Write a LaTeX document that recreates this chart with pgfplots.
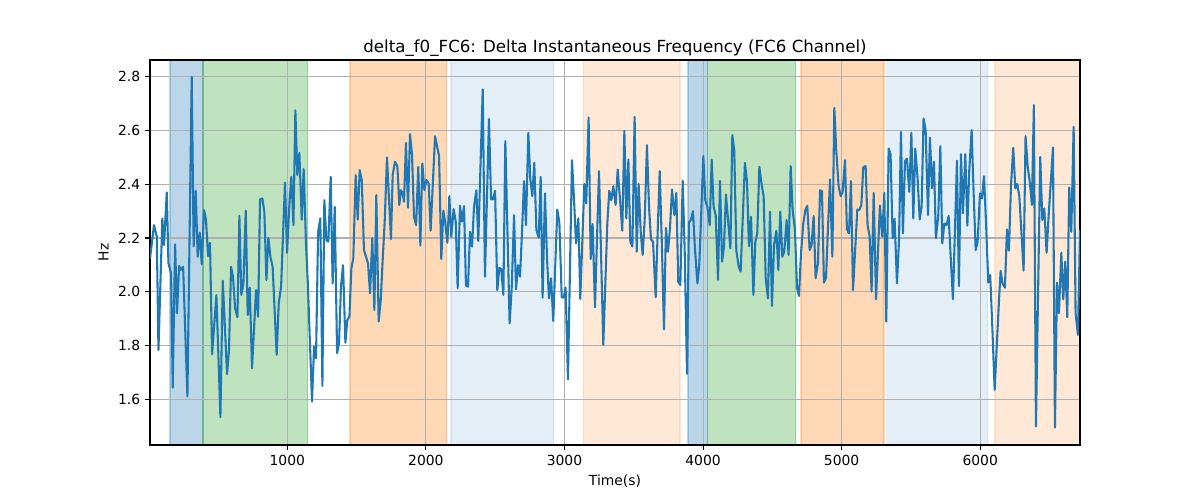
\documentclass[border=0pt]{standalone}
\usepackage{pgfplots}
\usepackage{pgfplotstable}
\pgfplotsset{compat=1.18}
\usepackage{fontspec}
\setmainfont{DejaVu Sans}
\definecolor{tabblue}{RGB}{31,119,180}
\definecolor{taborange}{RGB}{255,127,14}
\definecolor{tabgreen}{RGB}{44,160,44}
\definecolor{gridgray}{RGB}{176,176,176}
\pgfplotstableread{
x y
9 2.124
38 2.248
58 2.205
70 1.783
98 2.273
110 2.174
130 2.370
142 2.106
161 2.068
173 1.643
190 2.176
204 1.920
219 2.096
231 2.081
248 2.093
279 1.610
310 2.800
324 2.168
339 2.375
353 2.130
368 2.220
382 2.103
399 2.304
413 2.269
428 2.133
442 2.182
457 1.767
488 1.987
502 1.771
517 1.533
534 2.041
565 1.693
579 1.783
594 2.093
608 2.056
623 1.938
640 1.905
654 2.283
668 1.988
683 2.031
700 2.302
714 1.913
729 2.015
745 1.715
774 2.006
789 1.907
803 2.344
820 2.347
834 2.298
849 2.044
863 2.201
878 2.130
894 2.093
923 1.765
938 1.957
955 2.019
983 2.406
998 2.145
1015 2.329
1029 2.428
1044 2.248
1058 2.676
1072 2.434
1087 2.517
1104 2.269
1118 2.457
1135 2.174
1149 2.019
1178 1.591
1193 1.796
1207 1.752
1222 2.223
1238 2.273
1253 1.649
1267 2.341
1282 2.192
1296 2.186
1313 2.428
1327 2.031
1342 2.316
1359 1.771
1373 1.808
1387 2.019
1402 2.099
1419 1.810
1433 1.895
1448 1.907
1462 2.087
1476 2.124
1493 2.434
1508 2.269
1522 2.453
1537 2.416
1553 2.155
1568 2.130
1582 2.106
1597 1.994
1613 2.199
1628 1.932
1642 2.360
1659 1.889
1674 1.969
1688 2.118
1703 2.267
1719 2.500
1734 2.341
1748 2.196
1760 2.434
1777 2.484
1794 2.468
1808 2.323
1820 2.378
1832 2.368
1842 2.335
1856 2.554
1871 2.313
1885 2.587
1900 2.509
1914 2.279
1929 2.248
1945 2.465
1960 2.171
1974 2.478
1989 2.378
2003 2.416
2020 2.403
2034 2.227
2066 2.579
2095 2.505
2111 2.122
2126 2.302
2140 2.254
2155 2.182
2169 2.356
2183 2.205
2200 2.308
2215 2.261
2229 2.013
2246 2.320
2260 2.261
2275 2.319
2289 2.023
2304 2.019
2318 2.223
2333 2.168
2347 2.316
2364 2.378
2378 2.189
2410 2.753
2426 2.056
2455 2.643
2470 2.344
2484 2.344
2499 2.376
2515 2.006
2530 2.089
2544 2.083
2559 1.988
2573 2.561
2604 1.882
2619 2.013
2636 2.285
2650 2.009
2665 2.099
2679 2.056
2693 2.217
2708 2.412
2722 2.248
2739 2.592
2753 2.422
2768 2.356
2782 2.480
2797 2.230
2814 2.202
2828 2.428
2842 1.978
2859 2.366
2874 2.124
2888 1.975
2903 2.050
2919 1.891
2948 2.306
2963 2.258
2980 1.979
2994 1.978
3008 2.015
3025 1.674
3054 2.490
3069 2.341
3083 2.180
3100 2.273
3114 1.973
3143 2.401
3157 2.329
3174 2.649
3189 2.122
3203 2.252
3220 1.942
3249 2.449
3280 1.802
3309 2.254
3323 2.376
3338 2.341
3352 2.393
3369 2.323
3384 2.455
3401 2.341
3417 2.227
3432 2.599
3446 2.273
3461 2.492
3475 2.186
3490 2.168
3506 2.651
3521 2.149
3535 2.401
3550 2.223
3564 2.137
3579 2.273
3595 2.546
3610 2.316
3624 2.195
3639 2.186
3658 1.979
3672 2.217
3687 2.449
3701 2.205
3718 1.860
3732 2.238
3747 2.149
3761 2.236
3776 2.381
3793 2.285
3807 2.368
3821 2.037
3836 2.025
3853 2.413
3867 2.161
3884 1.694
3898 2.257
3913 2.269
3927 2.300
3942 2.155
3959 2.031
3973 2.103
4002 2.505
4016 2.341
4031 2.316
4048 2.248
4062 2.492
4076 2.316
4091 2.285
4108 2.044
4122 2.413
4137 2.112
4151 2.170
4165 2.362
4180 2.269
4197 2.161
4211 2.583
4225 2.527
4240 2.153
4257 2.093
4271 2.075
4302 2.480
4317 2.409
4331 2.170
4346 2.279
4363 1.988
4377 2.186
4391 2.217
4406 2.465
4423 2.397
4437 2.356
4452 2.050
4468 1.975
4483 2.298
4497 1.947
4512 2.174
4529 2.227
4543 2.081
4557 2.298
4572 2.130
4586 2.151
4603 2.267
4617 2.137
4632 2.468
4646 2.304
4663 2.230
4678 2.013
4692 1.984
4706 2.137
4723 2.254
4738 2.304
4752 2.320
4769 2.155
4783 2.174
4798 2.282
4812 2.050
4829 2.106
4844 2.378
4858 2.375
4872 2.034
4887 2.050
4901 2.232
4916 2.418
4933 2.130
4947 2.685
4961 2.527
4978 2.393
4993 2.356
5007 2.372
5024 2.490
5038 2.232
5053 2.217
5067 2.412
5082 2.006
5113 2.306
5127 2.304
5142 2.323
5156 2.463
5173 2.468
5187 2.248
5202 2.205
5216 2.000
5231 2.368
5248 1.972
5276 2.321
5293 2.205
5308 2.368
5322 1.889
5339 2.533
5353 2.512
5368 2.199
5382 2.272
5399 2.031
5414 2.192
5428 2.595
5442 2.217
5457 2.486
5471 2.496
5488 2.372
5503 2.592
5517 2.273
5531 2.533
5548 2.422
5563 2.269
5577 2.316
5591 2.645
5606 2.602
5623 2.285
5637 2.574
5652 2.385
5666 2.484
5680 2.199
5697 2.282
5712 2.542
5726 2.180
5741 2.254
5757 2.248
5772 2.282
5786 2.137
5803 1.972
5832 2.488
5846 2.021
5861 2.512
5875 2.292
5892 2.512
5907 2.246
5921 2.453
5938 2.602
5952 2.372
5967 2.155
5981 2.186
5998 2.366
6012 2.347
6027 2.430
6041 2.267
6058 2.034
6072 2.062
6087 1.870
6104 1.634
6133 1.944
6147 2.078
6161 2.031
6178 2.015
6193 2.232
6207 2.153
6222 2.397
6238 2.536
6253 2.385
6267 2.401
6282 2.356
6313 2.078
6327 2.579
6342 2.468
6359 2.403
6373 2.323
6387 2.695
6402 1.498
6433 2.502
6448 2.267
6462 2.310
6479 2.145
6493 2.279
6525 2.537
6539 1.494
6554 2.034
6568 1.920
6585 2.145
6599 1.972
6613 2.112
6628 1.905
6642 2.388
6657 2.223
6674 2.614
6688 1.920
6705 1.839
6720 2.230
}\datatable
\newcommand{\vspan}[4]{%
  \addplot[on layer=axis background, forget plot, draw=#3, fill=#3,
    fill opacity=#4, draw opacity=#4, line width=1pt]
    coordinates {(#1,1.0) (#2,1.0) (#2,3.2) (#1,3.2)} -- cycle;}
\begin{document}
\begin{tikzpicture}
\begin{axis}[
  set layers, clip mode=individual,
  at={(108pt,39.6pt)}, anchor=south west,
  scale only axis, width=669.6pt, height=277.2pt,
  xmin=9, xmax=6720, ymin=1.429, ymax=2.863,
  xtick={1000,2000,3000,4000,5000,6000},
  ytick={1.6,1.8,2.0,2.2,2.4,2.6,2.8},
  grid=major, grid style={gridgray, line width=0.8pt},
  tick align=outside, major tick length=3.5pt,
  tick style={black, line width=0.8pt},
  axis line style={line width=0.8pt},
  tick pos=left,
  tick label style={font=\fontsize{10}{12}\selectfont},
  /pgf/number format/assume math mode=true,
  x tick label style={/pgf/number format/1000 sep={}},
  y tick label style={/pgf/number format/.cd, fixed, fixed zerofill, precision=1},
  xlabel={Time(s)}, ylabel={Hz},
  label style={font=\fontsize{10}{12}\selectfont},
  title={delta\_f0\_FC6: Delta Instantaneous Frequency (FC6 Channel)},
  title style={font=\fontsize{12}{14}\selectfont, yshift=-7pt},
]
\vspan{154}{391}{tabblue}{0.3}
\vspan{391}{1147}{tabgreen}{0.3}
\vspan{1452}{2150}{taborange}{0.3}
\vspan{2181}{2922}{tabblue}{0.12}
\vspan{3136}{3833}{taborange}{0.17}
\vspan{3891}{4033}{tabblue}{0.3}
\vspan{4033}{4668}{tabgreen}{0.3}
\vspan{4706}{5305}{taborange}{0.3}
\vspan{5325}{6053}{tabblue}{0.12}
\vspan{6106}{6800}{taborange}{0.17}
\addplot[tabblue, line width=1.5pt, line join=round, mark=none] table[x=x,y=y] {\datatable};
\end{axis}
\path (0,0) rectangle (864pt,360pt);
\end{tikzpicture}
\end{document}
